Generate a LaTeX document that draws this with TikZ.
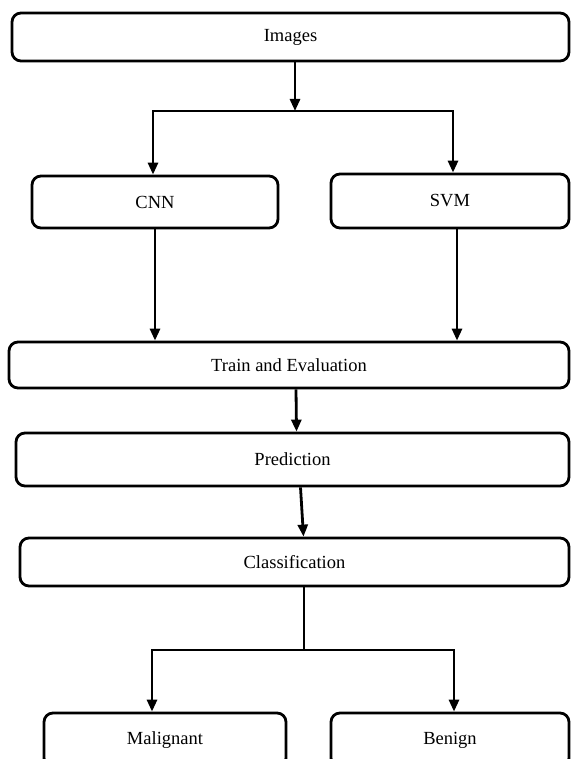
\documentclass[tikz,border=0pt]{standalone}
\usepackage{fontspec}
\setmainfont{Liberation Serif}
\usetikzlibrary{arrows.meta}

\begin{document}
\begin{tikzpicture}[x=1pt, y=-1pt,
    box/.style={draw, line width=2.8pt, rounded corners=9pt, inner sep=0pt, font=\fontsize{18.5}{22}\selectfont},
    arr/.style={line width=2.8pt, -{Triangle[length=12pt,width=10pt]}},
    link/.style={line width=2.8pt, line cap=rect}]
    \useasboundingbox (0,0) rectangle (571,759);
    \clip (0,0) rectangle (571,759);

    % Draw the boxes
    \foreach \n/\x/\y/\w/\h/\t in {images/290.5/37/557/48/Images, cnn/155/202/246/52/CNN, svm/450/201/238/54/SVM, train/289/365/560/46/Train and Evaluation, prediction/292.5/459.5/553/53/Prediction, classification/294.5/562/549/48/Classification, malignant/165/740/242/54/Malignant, benign/450/740/238/54/Benign} {
      \node[box, minimum width=\w pt, minimum height=\h pt] (\n) at (\x,\y) {\t};
    }

    % Split points
    \coordinate (top) at (295,111);
    \coordinate (topL) at (153,111);
    \coordinate (topR) at (453,111);
    \coordinate (svmout) at ([xshift=7pt]svm.south);
    \coordinate (bot) at (304,650);
    \coordinate (botL) at (152,650);
    \coordinate (botR) at (454,650);

    % Images to the two models
    \draw[arr] (images.south -| top) -- (top);
    \draw[link] (topL) -- (topR);
    \draw[arr] (topL) -- (cnn.north -| topL);
    \draw[arr] (topR) -- (svm.north -| topR);

    % Models to training
    \draw[arr] (cnn.south) -- (train.north -| cnn.south);
    \draw[arr] (svmout) -- (train.north -| svmout);

    % Down the chain
    \draw[arr] ([xshift=7pt]train.south) -- ([xshift=4pt]prediction.north);
    \draw[arr] ([xshift=8pt]prediction.south) -- ([xshift=9pt]classification.north);

    % Classification to the two classes
    \draw[link] (classification.south -| bot) -- (bot);
    \draw[link] (botL) -- (botR);
    \draw[arr] (botL) -- (malignant.north -| botL);
    \draw[arr] (botR) -- (benign.north -| botR);
\end{tikzpicture}
\end{document}
